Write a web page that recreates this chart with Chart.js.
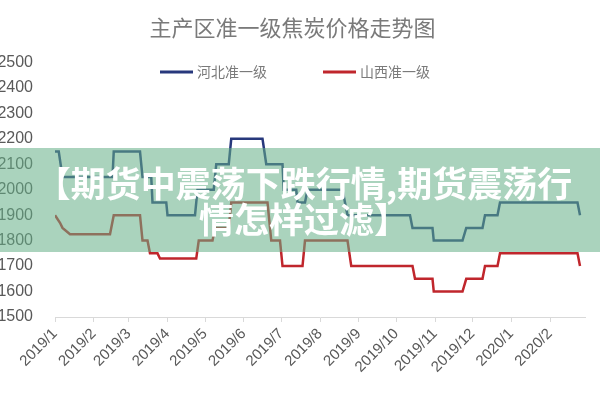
<!DOCTYPE html>
<html><head><meta charset="utf-8">
<script src="https://cdn.jsdelivr.net/npm/chart.js@4.4.0/dist/chart.umd.min.js"></script>
<style>
html,body{margin:0;padding:0;background:#fff;}
#wrap{position:relative;width:600px;height:400px;overflow:hidden;background:#fff;}
#c{position:absolute;left:0;top:0;}
#banner{position:absolute;left:0;top:148px;width:600px;height:104px;background:rgba(100,175,135,0.55);color:#fff;font-family:"Noto Sans CJK SC",sans-serif;font-weight:bold;font-size:35px;line-height:36px;text-align:center;display:flex;flex-direction:column;justify-content:center;padding-left:8px;box-sizing:border-box;}
</style></head><body>
<div id="wrap"><canvas id="c" width="600" height="400"></canvas>
<div id="banner"><div>【期货中震荡下跌行情,期货震荡行</div><div>情怎样过滤】</div></div></div>
<script>
const chartTitle = '主产区准一级焦炭价格走势图';
const hebeiLabel = '河北准一级';
const shanxiLabel = '山西准一级';
const monthTickLabels = ['2019/1','2019/2','2019/3','2019/4','2019/5','2019/6','2019/7','2019/8','2019/9','2019/10','2019/11','2019/12','2020/1','2020/2'];
const axisStart = '2019-01-01';
const axisEnd = '2020-02-29';
const yMin = 1500, yMax = 2500, yStep = 100;

const hebeiDates = ['2019-01-01','2019-01-04','2019-01-07','2019-02-16','2019-02-17','2019-03-10','2019-03-12','2019-03-19','2019-03-20','2019-03-31','2019-04-01','2019-04-23','2019-04-25','2019-05-08','2019-05-10','2019-05-20','2019-05-22','2019-06-16','2019-06-19','2019-07-02','2019-07-03','2019-07-13','2019-07-14','2019-07-20','2019-07-22','2019-08-19','2019-08-23','2019-10-12','2019-10-14','2019-10-30','2019-10-31','2019-11-23','2019-11-26','2019-12-09','2019-12-11','2019-12-21','2019-12-23','2020-02-23','2020-02-25'];
const hebeiPrices = [2150,2150,2050,2050,2150,2150,2050,2050,1950,1950,1900,1900,2000,2000,2100,2100,2200,2200,2100,2100,2000,2000,1950,1950,2000,2000,1900,1900,1850,1850,1800,1800,1850,1850,1900,1900,1950,1950,1900];

const shanxiDates = ['2019-01-01','2019-01-05','2019-01-07','2019-01-13','2019-02-14','2019-02-17','2019-03-10','2019-03-12','2019-03-16','2019-03-18','2019-03-24','2019-03-26','2019-04-24','2019-04-26','2019-05-07','2019-05-09','2019-05-20','2019-05-22','2019-06-20','2019-06-23','2019-06-30','2019-07-02','2019-07-18','2019-07-20','2019-08-23','2019-08-26','2019-10-14','2019-10-16','2019-10-30','2019-10-31','2019-11-23','2019-11-26','2019-12-09','2019-12-11','2019-12-21','2019-12-23','2020-02-23','2020-02-25'];
const shanxiPrices = [1900,1870,1850,1825,1825,1900,1900,1800,1800,1750,1750,1730,1730,1800,1800,1850,1850,1950,1950,1800,1800,1700,1700,1800,1800,1700,1700,1650,1650,1600,1600,1650,1650,1700,1700,1750,1750,1700];

const DAY = 864e5;
const t0 = Date.parse(axisStart + 'T00:00:00Z');
const dayOf = s => (Date.parse(s + 'T00:00:00Z') - t0) / DAY;
const monthDays = monthTickLabels.map(l => { const [y, m] = l.split('/').map(Number); return (Date.UTC(y, m - 1, 1) - t0) / DAY; });
const toPoints = (dates, vals) => dates.map((d, i) => ({x: dayOf(d), y: vals[i]}));

const lineLegend = {
  id: 'lineLegend',
  afterDraw(chart, args, opts) {
    const ctx = chart.ctx;
    ctx.save();
    ctx.font = opts.font;
    ctx.textBaseline = 'middle';
    ctx.textAlign = 'left';
    let x = opts.x;
    const y = opts.y;
    chart.data.datasets.forEach(ds => {
      ctx.strokeStyle = ds.borderColor;
      ctx.lineWidth = 3;
      ctx.beginPath(); ctx.moveTo(x, y); ctx.lineTo(x + opts.lineLen, y); ctx.stroke();
      x += opts.lineLen + opts.textGap;
      ctx.fillStyle = opts.color;
      ctx.fillText(ds.label, x, y);
      x += ctx.measureText(ds.label).width + opts.itemGap;
    });
    ctx.restore();
  }
};

new Chart(document.getElementById('c'), {
  type: 'line',
  data: {
    datasets: [
      {label: hebeiLabel, data: toPoints(hebeiDates, hebeiPrices), borderColor: '#27387c', backgroundColor: '#27387c', borderWidth: 2.5, pointRadius: 0, tension: 0},
      {label: shanxiLabel, data: toPoints(shanxiDates, shanxiPrices), borderColor: '#c0262c', backgroundColor: '#c0262c', borderWidth: 2.5, pointRadius: 0, tension: 0}
    ]
  },
  options: {
    responsive: false,
    animation: false,
    devicePixelRatio: 1,
    layout: {padding: {left: 0, right: 15, top: 0, bottom: 0}},
    plugins: {
      legend: {display: false},
      tooltip: {enabled: false},
      title: {display: true, text: chartTitle, color: '#7a7a7a', font: {family: '"Noto Sans CJK SC"', size: 22, weight: 'normal'}, padding: {top: 14, bottom: 22}},
      lineLegend: {x: 160, y: 72, lineLen: 33, textGap: 4, itemGap: 56, color: '#7a7a7a', font: '14px "Noto Sans CJK SC"'}
    },
    scales: {
      x: {
        type: 'linear',
        min: 0,
        max: dayOf(axisEnd),
        afterBuildTicks: s => { s.ticks = monthDays.map(v => ({value: v})); },
        afterFit: s => { s.height = 83; },
        ticks: {autoSkip: false, minRotation: 45, maxRotation: 45, color: '#595959', font: {family: '"Liberation Sans"', size: 15}, padding: 3,
          callback: v => monthTickLabels[monthDays.indexOf(v)]},
        grid: {display: true, drawOnChartArea: false, drawTicks: true, tickLength: 5, color: '#d9d9d9'},
        border: {display: true, color: '#d9d9d9', width: 1}
      },
      y: {
        min: yMin, max: yMax,
        afterFit: s => { s.width = 55; },
        ticks: {stepSize: yStep, color: '#595959', font: {family: '"Liberation Sans"', size: 16}, padding: 22,
          callback: v => String(v)},
        grid: {display: false, drawTicks: false},
        border: {display: false}
      }
    }
  },
  plugins: [lineLegend]
});
</script>
</body></html>
